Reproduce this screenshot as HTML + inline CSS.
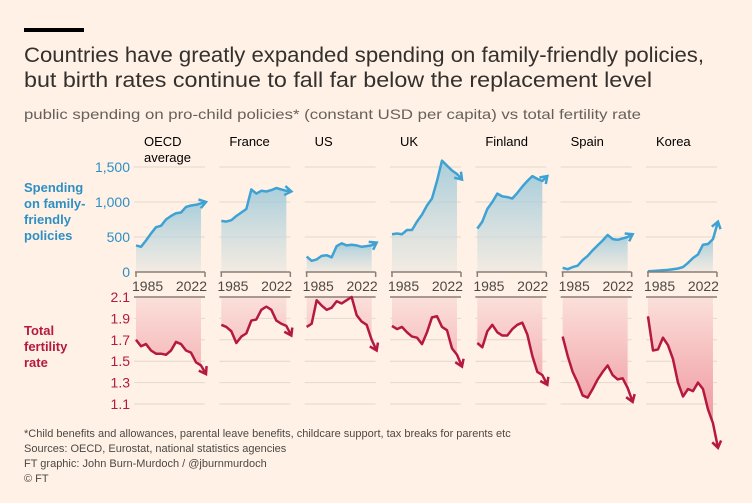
<!DOCTYPE html>
<html><head><meta charset="utf-8"><style>
html,body{margin:0;padding:0;background:#fff1e5;}
svg{display:block;font-family:"Liberation Sans",sans-serif;}
</style></head><body>
<svg id="chart" width="752" height="503" viewBox="0 0 752 503" xmlns="http://www.w3.org/2000/svg">
<defs>
<linearGradient id="gBlue" x1="0" y1="0" x2="0" y2="1"><stop offset="0" stop-color="#8ec3d8" stop-opacity="0.75"/><stop offset="1" stop-color="#e9e6e0" stop-opacity="0.6"/></linearGradient>
<linearGradient id="gRed" gradientUnits="userSpaceOnUse" x1="0" y1="297" x2="0" y2="440"><stop offset="0" stop-color="#fbe0da"/><stop offset="1" stop-color="#ee8e98"/></linearGradient>
</defs>
<rect width="752" height="503" fill="#fff1e5"/>
<rect x="24" y="28" width="60" height="4" fill="#000"/>
<text x="24" y="62" font-size="21" fill="#33302e" textLength="680" lengthAdjust="spacingAndGlyphs">Countries have greatly expanded spending on family-friendly policies,</text>
<text x="24" y="87" font-size="21" fill="#33302e" textLength="628" lengthAdjust="spacingAndGlyphs">but birth rates continue to fall far below the replacement level</text>
<text x="24" y="119" font-size="14" fill="#66605c" textLength="617" lengthAdjust="spacingAndGlyphs">public spending on pro-child policies* (constant USD per capita) vs total fertility rate</text>
<g fill="#2e8fc5" font-size="13" font-weight="bold">
<text x="24" y="192">Spending</text><text x="24" y="208">on family-</text><text x="24" y="224">friendly</text><text x="24" y="240">policies</text></g>
<g fill="#b5193f" font-size="13" font-weight="bold">
<text x="24" y="335">Total</text><text x="24" y="351">fertility</text><text x="24" y="367">rate</text></g>
<g id="plots"></g>
<g fill="#4d4845" font-size="11">
<text x="24" y="437">*Child benefits and allowances, parental leave benefits, childcare support, tax breaks for parents etc</text>
<text x="24" y="452">Sources: OECD, Eurostat, national statistics agencies</text>
<text x="24" y="467">FT graphic: John Burn-Murdoch / @jburnmurdoch</text>
<text x="24" y="482">© FT</text></g>
</svg>
<script>
const countries = ["OECD average","France","US","UK","Finland","Spain","Korea"];
const spendTicks = [0,500,1000,1500];
const tfrTicks = [2.1,1.9,1.7,1.5,1.3,1.1];
const yearLabels = ["1985","2022"];
const spendOECD = [380,360,450,550,640,660,750,800,840,850,930,950,960,980,1000];
const spendFrance = [730,720,740,800,850,900,1180,1120,1160,1150,1170,1200,1180,1160,1150];
const spendUS = [220,160,180,230,240,210,370,410,380,390,380,360,370,380,420];
const spendUK = [540,550,540,600,600,720,820,950,1050,1300,1590,1520,1450,1400,1320];
const spendFinland = [620,720,900,1000,1120,1080,1070,1050,1130,1220,1300,1370,1330,1300,1370];
const spendSpain = [60,40,70,90,170,230,310,380,450,530,470,460,480,500,540];
const spendKorea = [10,15,20,25,30,40,50,70,130,200,250,390,400,470,720];
const tfrOECD = [1.70,1.64,1.66,1.60,1.57,1.57,1.56,1.60,1.68,1.66,1.60,1.58,1.49,1.46,1.38];
const tfrFrance = [1.84,1.82,1.78,1.67,1.73,1.76,1.88,1.89,1.98,2.01,1.98,1.88,1.85,1.83,1.74];
const tfrUS = [1.82,1.85,2.07,2.02,1.98,2.00,2.06,2.04,2.07,2.10,1.93,1.87,1.84,1.70,1.60];
const tfrUK = [1.83,1.80,1.82,1.77,1.73,1.72,1.66,1.77,1.91,1.92,1.82,1.79,1.62,1.56,1.45];
const tfrFinland = [1.67,1.63,1.78,1.84,1.77,1.74,1.74,1.80,1.84,1.86,1.75,1.55,1.40,1.37,1.28];
const tfrSpain = [1.73,1.55,1.40,1.30,1.18,1.16,1.24,1.33,1.40,1.46,1.37,1.33,1.34,1.25,1.12];
const tfrKorea = [1.92,1.60,1.61,1.72,1.65,1.52,1.30,1.17,1.24,1.22,1.30,1.24,1.05,0.92,0.69];
const spendSeries = [spendOECD,spendFrance,spendUS,spendUK,spendFinland,spendSpain,spendKorea];
const tfrSeries = [tfrOECD,tfrFrance,tfrUS,tfrUK,tfrFinland,tfrSpain,tfrKorea];

const NS="http://www.w3.org/2000/svg";
const root=document.getElementById('plots');
const P0=134, PITCH=85.33, PW=71;
const ySpend=v=>272-v/500*35;
const yTfr=v=>297+(2.1-v)/0.2*21.4;
function mk(tag,attrs,parent){const e=document.createElementNS(NS,tag);for(const k in attrs)e.setAttribute(k,attrs[k]);(parent||root).appendChild(e);return e;}
function txt(s,attrs,parent){const e=mk('text',attrs,parent);e.textContent=s;return e;}

// y tick labels
spendTicks.forEach(t=>{
  const e=txt(t.toLocaleString('en-US'),{x:130,y:ySpend(t)+5,'font-size':14,fill:'#2e8fc5','text-anchor':'end'});
  
  
});
tfrTicks.forEach(t=>{
  const e=txt(t.toFixed(1),{x:130,y:yTfr(t)+5,'font-size':14,fill:'#b5193f','text-anchor':'end'});
  
  
});

function arrowHead(g,pts,color){
  const [x1,y1]=pts[pts.length-2],[x2,y2]=pts[pts.length-1];
  const a=Math.atan2(y2-y1,x2-x1),L=8,w=0.6;
  const p=[[x2-L*Math.cos(a-w),y2-L*Math.sin(a-w)],[x2,y2],[x2-L*Math.cos(a+w),y2-L*Math.sin(a+w)]];
  mk('polyline',{points:p.map(q=>q.join(',')).join(' '),fill:'none',stroke:color,'stroke-width':2.5,'stroke-linejoin':'miter'},g);
}

countries.forEach((c,i)=>{
  const x0=P0+i*PITCH;
  const g=mk('g',{});
  
  
  const words=c==="OECD average"?["OECD","average"]:[c];
  words.forEach((w,k)=>{const t=txt(w,{x:x0+10,y:146+k*16,'font-size':13,fill:'#000'},g);
    
    });
  // gridlines
  spendTicks.slice(1).forEach(t=>mk('line',{x1:x0,x2:x0+PW,y1:ySpend(t),y2:ySpend(t),stroke:'#e3d8cc','stroke-width':1},g));
  tfrTicks.slice(1).forEach(t=>mk('line',{x1:x0,x2:x0+PW,y1:yTfr(t),y2:yTfr(t),stroke:'#e3d8cc','stroke-width':1},g));
  const xs=k=>x0+2+k*(PW-1)/(spendSeries[i].length-1);
  // spending
  const sp=spendSeries[i].map((v,k)=>[xs(k),ySpend(v)]);
  const n=sp.length;
  const fillPts=sp.slice(0,n-1);
  const area=mk('path',{d:'M'+fillPts[0][0]+',272 L'+fillPts.map(p=>p.join(',')).join(' L')+' L'+fillPts[n-2][0]+',272 Z',fill:'url(#gBlue)'},g);
  
  
  const ln=mk('polyline',{points:sp.map(p=>p.join(',')).join(' '),fill:'none',stroke:'#3ea2d4','stroke-width':2.5,'stroke-linejoin':'round'},g);
  
  
  arrowHead(g,sp,'#3ea2d4');
  // x axis
  mk('line',{x1:x0+1,x2:x0+PW,y1:272,y2:272,stroke:'#8a7e75','stroke-width':1.5},g);
  mk('line',{x1:x0+2,x2:x0+2,y1:272,y2:277,stroke:'#8a7e75','stroke-width':1.5},g);
  mk('line',{x1:x0+PW,x2:x0+PW,y1:272,y2:277,stroke:'#8a7e75','stroke-width':1.5},g);
  txt(yearLabels[0],{x:x0-2,y:291,'font-size':14,fill:'#4d4845'},g);
  txt(yearLabels[1],{x:x0+PW+2,y:291,'font-size':14,fill:'#4d4845','text-anchor':'end'},g);
  // tfr
  const tp=tfrSeries[i].map((v,k)=>[xs(k),yTfr(v)]);
  const tf=tp.slice(0,n-1);
  const ta=mk('path',{d:'M'+tf[0][0]+',297 L'+tf.map(p=>p.join(',')).join(' L')+' L'+tf[n-2][0]+',297 Z',fill:'url(#gRed)'},g);
  
  
  mk('line',{x1:x0,x2:x0+PW,y1:297,y2:297,stroke:'#8a7e75','stroke-width':1.5},g);
  const tl=mk('polyline',{points:tp.map(p=>p.join(',')).join(' '),fill:'none',stroke:'#b5193f','stroke-width':2.5,'stroke-linejoin':'round'},g);
  
  
  arrowHead(g,tp,'#b5193f');
});
</script>
</body></html>
